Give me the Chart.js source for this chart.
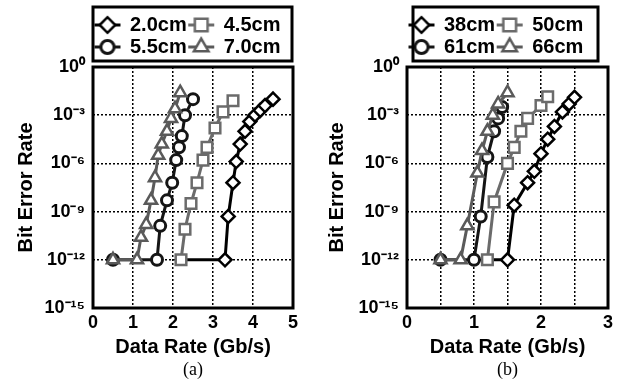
<!DOCTYPE html>
<html><head><meta charset="utf-8">
<script src="https://cdn.jsdelivr.net/npm/chart.js@4/dist/chart.umd.min.js"></script>
<style>
html,body{margin:0;padding:0;background:#fff;}
#wrap{position:relative;width:623px;height:381px;overflow:hidden;background:#fff;}
canvas{position:absolute;top:0;}
#ca{left:0;} #cb{left:310px;}
</style></head><body>
<div id="wrap"><canvas id="ca" width="310" height="381"></canvas><canvas id="cb" width="313" height="381"></canvas></div>
<script>
const yTickValues = [1e-15, 1e-12, 1e-9, 1e-6, 1e-3, 1];
const yTickLabels = ['10⁻¹⁵', '10⁻¹²', '10⁻⁹', '10⁻⁶', '10⁻³', '10⁰'];
const xTicksA = [0, 1, 2, 3, 4, 5];
const xTicksB = [0, 1, 2, 3];

// panel (a)
const labelsA = ['2.0cm', '4.5cm', '5.5cm', '7.0cm'];
const rate20 = [2.2, 3.3, 3.38, 3.5, 3.58, 3.68, 3.8, 3.92, 4.05, 4.18, 4.3, 4.5];
const ber20  = [1e-12, 1e-12, 5e-10, 6.3e-8, 1.3e-6, 1.6e-5, 1e-4, 4e-4, 1e-3, 2e-3, 4e-3, 1e-2];
const rate45 = [2.2, 2.3, 2.45, 2.6, 2.75, 2.85, 3.05, 3.25, 3.5];
const ber45  = [1e-12, 8e-11, 3.2e-9, 6.3e-8, 1.6e-6, 1e-5, 1.6e-4, 1.6e-3, 8e-3];
const rate55 = [0.5, 1.6, 1.68, 1.85, 1.98, 2.08, 2.15, 2.22, 2.3, 2.5];
const ber55  = [1e-12, 1e-12, 1.3e-10, 5e-9, 6.3e-8, 1.6e-6, 1e-5, 5e-5, 1e-3, 1e-2];
const rate70 = [0.5, 1.1, 1.2, 1.33, 1.45, 1.55, 1.63, 1.72, 1.85, 1.95, 2.05, 2.18];
const ber70  = [1e-12, 1e-12, 2.5e-11, 1.6e-10, 5e-9, 1.3e-7, 3.2e-6, 1.6e-5, 1e-4, 6.3e-4, 2.5e-3, 2.5e-2];

// panel (b)
const labelsB = ['38cm', '50cm', '61cm', '66cm'];
const rate38 = [1.2, 1.5, 1.6, 1.8, 1.9, 2.0, 2.1, 2.2, 2.32, 2.42, 2.5];
const ber38  = [1e-12, 1e-12, 2.5e-9, 6.3e-8, 3.2e-7, 4e-6, 3.2e-5, 2e-4, 1.6e-3, 5e-3, 1.3e-2];
const rate50 = [1.2, 1.3, 1.5, 1.6, 1.7, 1.8, 2.0, 2.1];
const ber50  = [1e-12, 4e-9, 1e-6, 1e-5, 1e-4, 6.3e-4, 4e-3, 1.4e-2];
const rate61 = [0.5, 1.0, 1.1, 1.2, 1.3, 1.36, 1.42];
const ber61  = [1e-12, 1e-12, 5e-10, 2.5e-6, 1e-4, 6.3e-4, 3.2e-3];
const rate66 = [0.5, 0.8, 0.9, 1.05, 1.12, 1.2, 1.28, 1.36, 1.5];
const ber66  = [1e-12, 1e-12, 1.3e-10, 2.5e-7, 6.3e-6, 1e-4, 1e-3, 5e-3, 2.5e-2];

const FONT = "'Liberation Sans', Arial, sans-serif";
const seriesStyle = [
  {pointStyle: 'rectRot',  color: '#000000', radius: 6.5, bw: 2.5, order: 3, hideFirst: true},
  {pointStyle: 'rect',     color: '#6b6b6b', radius: 7.5, bw: 2.5, order: 2, hideFirst: false},
  {pointStyle: 'circle',   color: '#151515', radius: 5.5, bw: 3,   order: 1, hideFirst: false},
  {pointStyle: 'triangle', color: '#5a5a5a', radius: 7,   bw: 2.5, order: 0, hideFirst: false}
];
function pts(xs, ys) { return xs.map((x, i) => ({x: x, y: ys[i]})); }
function drawMarker(g, st, r, x, y) {
  g.fillStyle = '#fff'; g.strokeStyle = st.color; g.lineWidth = st.bw;
  if (Chart.helpers && Chart.helpers.drawPoint) {
    Chart.helpers.drawPoint(g, {pointStyle: st.pointStyle, radius: r, borderWidth: st.bw, rotation: 0}, x, y);
    return;
  }
  g.beginPath();
  if (st.pointStyle === 'circle') g.arc(x, y, r, 0, Math.PI * 2);
  else if (st.pointStyle === 'rect') { const s = r * Math.SQRT1_2; g.rect(x - s, y - s, 2 * s, 2 * s); }
  else if (st.pointStyle === 'rectRot') { g.moveTo(x, y - r); g.lineTo(x + r, y); g.lineTo(x, y + r); g.lineTo(x - r, y); g.closePath(); }
  else { g.moveTo(x, y - r); g.lineTo(x + r * 0.866, y + r / 2); g.lineTo(x - r * 0.866, y + r / 2); g.closePath(); }
  g.fill(); g.stroke();
}
function makeIcon(st) {
  const c = document.createElement('canvas');
  c.width = 28; c.height = 22;
  const g = c.getContext('2d');
  g.strokeStyle = st.color; g.lineWidth = 3;
  g.beginPath(); g.moveTo(1, 11); g.lineTo(27, 11); g.stroke();
  drawMarker(g, st, st.radius * 1.2, 14, 11);
  return c;
}
const icons = seriesStyle.map(makeIcon);
function makeDatasets(labels, series) {
  return series.map((s, i) => {
    const st = seriesStyle[i];
    return {
      label: labels[i], data: pts(s[0], s[1]),
      borderColor: st.color, backgroundColor: '#ffffff', borderWidth: 3,
      pointStyle: st.pointStyle,
      pointRadius: (c) => (st.hideFirst && c.dataIndex === 0) ? 0 : st.radius,
      pointBorderWidth: st.bw, pointBorderColor: st.color, pointBackgroundColor: '#ffffff',
      tension: 0, order: st.order
    };
  });
}
const framePlugin = {
  id: 'frame',
  afterDraw(chart, args, opts) {
    const {ctx, chartArea: a, legend} = chart;
    ctx.save();
    ctx.setLineDash([]);
    ctx.strokeStyle = '#000';
    ctx.lineWidth = 3;
    ctx.strokeRect(a.left, a.top, a.right - a.left, a.bottom - a.top);
    const l = a.left + opts.inL, r = a.right - opts.inR;
    ctx.strokeRect(l, legend.top - 6, r - l, 54);
    ctx.restore();
  }
};
function makeChart(id, labels, series, cfg) {
  const xTickList = cfg.xTicks;
  const gridOpts = {color: '#000', lineWidth: 1.5, drawTicks: false};
  const borderOpts = {display: false, dash: [2, 2]};
  return new Chart(document.getElementById(id), {
    type: 'line',
    data: {datasets: makeDatasets(labels, series)},
    plugins: [framePlugin],
    options: {
      responsive: false, animation: false, devicePixelRatio: 1, events: [],
      layout: {padding: {top: 13, left: 0, right: cfg.padRight, bottom: 0}},
      plugins: {
        frame: {inL: cfg.inL, inR: cfg.inR},
        tooltip: {enabled: false},
        legend: {
          display: true, position: 'top', fullSize: false, align: 'start',
          labels: {
            font: {family: FONT, size: 20, weight: 'bold'}, color: '#000', padding: 2,
            usePointStyle: true, pointStyleWidth: 25, boxHeight: 16,
            generateLabels: (chart) => chart.data.datasets.map((ds, i) => ({
              text: ds.label, fillStyle: '#fff', strokeStyle: ds.borderColor, lineWidth: 2.5,
              pointStyle: icons[i], hidden: false, datasetIndex: i, fontColor: '#000'
            }))
          }
        },
        subtitle: {
          display: true, position: 'bottom', fullSize: false, text: cfg.caption, color: '#000',
          font: {family: "'Liberation Serif', 'Times New Roman', serif", size: 18, weight: 'normal', lineHeight: 1.2},
          padding: {top: 0, bottom: 0}
        }
      },
      scales: {
        x: {
          type: 'linear', min: xTickList[0], max: xTickList[xTickList.length - 1],
          afterFit: (s) => { s.height = 51.4; },
          ticks: {
            stepSize: cfg.gridStep, autoSkip: false, maxRotation: 0, padding: 4, color: '#000',
            font: {family: FONT, size: 18, weight: 'bold'},
            callback: (v) => xTickList.includes(v) ? String(v) : ''
          },
          grid: gridOpts,
          border: borderOpts,
          title: {display: true, text: 'Data Rate (Gb/s)', color: '#000', font: {family: FONT, size: 20, weight: 'bold'}, padding: {top: 0, bottom: 0}}
        },
        y: {
          type: 'logarithmic', min: yTickValues[0], max: yTickValues[yTickValues.length - 1],
          afterFit: (s) => { s.width = cfg.yWidth; },
          afterBuildTicks: (s) => { s.ticks = yTickValues.map(v => ({value: v})); },
          ticks: {
            autoSkip: false, padding: 8, color: '#000',
            font: {family: FONT, size: 18, weight: 'bold'},
            callback: (v, i) => yTickLabels[i]
          },
          grid: gridOpts,
          border: borderOpts,
          title: {display: true, text: 'Bit Error Rate', color: '#000', font: {family: FONT, size: 20, weight: 'bold'}, padding: {top: cfg.yTitlePad, bottom: 0}}
        }
      }
    }
  });
}
makeChart('ca', labelsA,
  [[rate20, ber20], [rate45, ber45], [rate55, ber55], [rate70, ber70]],
  {xTicks: xTicksA, gridStep: 1, caption: '(a)', padRight: 17, yWidth: 93, yTitlePad: 14, inL: 0, inR: 1});
makeChart('cb', labelsB,
  [[rate38, ber38], [rate50, ber50], [rate61, ber61], [rate66, ber66]],
  {xTicks: xTicksB, gridStep: 0.5, caption: '(b)', padRight: 15, yWidth: 97, yTitlePad: 15, inL: 6, inR: 10});
</script>
</body></html>
